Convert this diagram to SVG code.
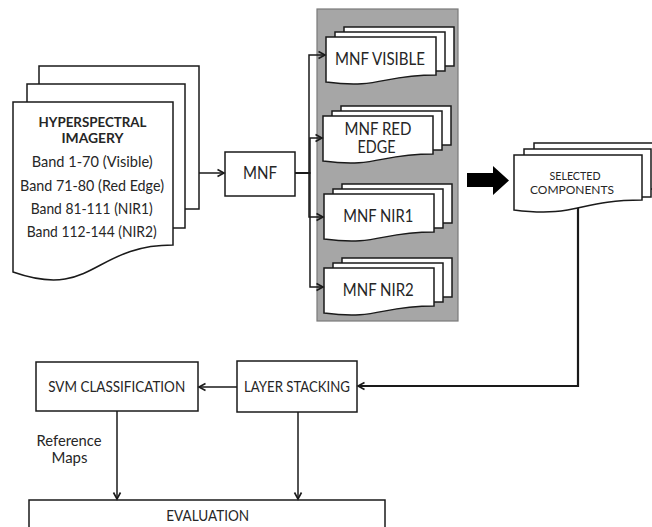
<svg xmlns="http://www.w3.org/2000/svg" width="652" height="527" viewBox="0 0 652 527">
  <defs>
    <marker id="open-arrow" markerUnits="userSpaceOnUse" markerWidth="10" markerHeight="10" refX="7.5" refY="4" orient="auto" overflow="visible">
      <path d="M1,0.5 L7.5,4 L1,7.5" fill="none" stroke="#1a1a1a" stroke-width="1.6"/>
    </marker>
  </defs>
  <style>
    .doc { fill: #ffffff; stroke: #1a1a1a; stroke-width: 1.5; }
    .box { fill: #ffffff; stroke: #1a1a1a; stroke-width: 1.5; }
    .panel { fill: #a6a6a6; stroke: #7a7a7a; stroke-width: 1.2; }
    .lbl { font-family: Lato, "Liberation Sans", sans-serif; fill: #262626; text-anchor: middle; }
    .conn { fill: none; stroke: #1a1a1a; stroke-width: 1.5; marker-end: url(#open-arrow); }
    .conn-thick { stroke-width: 2.2; }
  </style>

  <rect width="652" height="527" fill="#ffffff"/>

  <!-- Input imagery: stack of documents -->
  <g id="hyperspectral">
    <rect class="doc" x="39" y="66" width="160" height="143"/>
    <rect class="doc" x="27" y="84" width="158" height="144"/>
    <path class="doc" d="M13,102 H173 V245 C93,245 93,300 13,272 Z"/>
    <text class="lbl" x="92.5" y="126.5" font-size="14" font-weight="bold" textLength="108" lengthAdjust="spacingAndGlyphs">HYPERSPECTRAL</text>
    <text class="lbl" x="92.5" y="142.5" font-size="14" font-weight="bold" textLength="62" lengthAdjust="spacingAndGlyphs">IMAGERY</text>
    <text class="lbl" x="92.2" y="167" font-size="15.3" textLength="121" lengthAdjust="spacingAndGlyphs">Band 1-70 (Visible)</text>
    <text class="lbl" x="92" y="190.5" font-size="15.3" textLength="144" lengthAdjust="spacingAndGlyphs">Band 71-80 (Red Edge)</text>
    <text class="lbl" x="91.7" y="213.5" font-size="15.3" textLength="122" lengthAdjust="spacingAndGlyphs">Band 81-111 (NIR1)</text>
    <text class="lbl" x="91.7" y="236.5" font-size="15.3" textLength="130" lengthAdjust="spacingAndGlyphs">Band 112-144 (NIR2)</text>
  </g>

  <g id="mnf">
    <rect class="box" x="225" y="152" width="70" height="44"/>
    <text class="lbl" x="260" y="178.5" font-size="16.5" textLength="34" lengthAdjust="spacingAndGlyphs">MNF</text>
  </g>

  <!-- Grey panel holding the four MNF outputs -->
  <g id="mnf-panel">
    <rect class="panel" x="317" y="9" width="141" height="312"/>
  </g>

  <g id="mnf-visible">
    <rect class="doc" x="344" y="27" width="110" height="39"/>
    <rect class="doc" x="335" y="32" width="110" height="39"/>
    <path class="doc" d="M326,37 H436 V75 C381,75 381,89 326,82 Z"/>
    <text class="lbl" x="380" y="65" font-size="16.3" textLength="90" lengthAdjust="spacingAndGlyphs">MNF VISIBLE</text>
  </g>

  <g id="mnf-red-edge">
    <rect class="doc" x="341" y="106" width="110" height="39"/>
    <rect class="doc" x="332" y="111" width="110" height="39"/>
    <path class="doc" d="M323,116 H433 V154 C378,154 378,168 323,161 Z"/>
    <text class="lbl" x="378" y="135" font-size="16.3" textLength="67" lengthAdjust="spacingAndGlyphs">MNF RED</text>
    <text class="lbl" x="376.5" y="153.3" font-size="16.3" textLength="38" lengthAdjust="spacingAndGlyphs">EDGE</text>
  </g>

  <g id="mnf-nir1">
    <rect class="doc" x="342" y="184" width="110" height="39"/>
    <rect class="doc" x="333" y="189" width="110" height="39"/>
    <path class="doc" d="M324,194 H434 V232 C379,232 379,246 324,239 Z"/>
    <text class="lbl" x="378.3" y="222" font-size="16.3" textLength="70" lengthAdjust="spacingAndGlyphs">MNF NIR1</text>
  </g>

  <g id="mnf-nir2">
    <rect class="doc" x="342" y="258" width="110" height="39"/>
    <rect class="doc" x="333" y="263" width="110" height="39"/>
    <path class="doc" d="M324,268 H434 V306 C379,306 379,320 324,313 Z"/>
    <text class="lbl" x="378.3" y="295.5" font-size="16.3" textLength="71" lengthAdjust="spacingAndGlyphs">MNF NIR2</text>
  </g>

  <g id="selected-components">
    <rect class="doc" x="534" y="143" width="130" height="46"/>
    <rect class="doc" x="524" y="149" width="127" height="48"/>
    <path class="doc" d="M514,155 H642 V200 C578,200 578,218 514,210 Z"/>
    <text class="lbl" x="575" y="180" font-size="11.6" textLength="51" lengthAdjust="spacingAndGlyphs">SELECTED</text>
    <text class="lbl" x="572" y="194" font-size="11.6" textLength="84" lengthAdjust="spacingAndGlyphs">COMPONENTS</text>
  </g>

  <g id="layer-stacking">
    <rect class="box" x="237" y="361" width="120" height="51"/>
    <text class="lbl" x="297" y="392" font-size="15" textLength="106" lengthAdjust="spacingAndGlyphs">LAYER STACKING</text>
  </g>

  <g id="svm-classification">
    <rect class="box" x="36" y="362" width="162" height="49"/>
    <text class="lbl" x="116.7" y="392" font-size="15" textLength="137" lengthAdjust="spacingAndGlyphs">SVM CLASSIFICATION</text>
  </g>

  <g id="evaluation">
    <rect class="box" x="29" y="500" width="356" height="40"/>
    <text class="lbl" x="207.7" y="520.5" font-size="15" textLength="83" lengthAdjust="spacingAndGlyphs">EVALUATION</text>
  </g>

  <g id="reference-maps">
    <text class="lbl" x="69" y="446" font-size="15.3" textLength="65" lengthAdjust="spacingAndGlyphs">Reference</text>
    <text class="lbl" x="69.5" y="463" font-size="15.3" textLength="36" lengthAdjust="spacingAndGlyphs">Maps</text>
  </g>

  <!-- Connectors -->
  <g id="connectors">
    <path class="conn" d="M199,173 H224"/>
    <path class="conn" d="M295,173 H309 V55 H325"/>
    <path class="conn" d="M295,173 H310 V138 H322"/>
    <path class="conn" d="M295,173 H309 V217 H323"/>
    <path class="conn" d="M295,173 H310 V287 H323"/>
    <path class="conn conn-thick" d="M578,208 V386 H358"/>
    <path class="conn" d="M237,387 H199"/>
    <path class="conn" d="M117,411 V499"/>
    <path class="conn" d="M298,412 V499"/>
    <polygon points="467,173 493,173 493,166 509,180.5 493,195 493,187 467,187" fill="#000000"/>
  </g>
</svg>
